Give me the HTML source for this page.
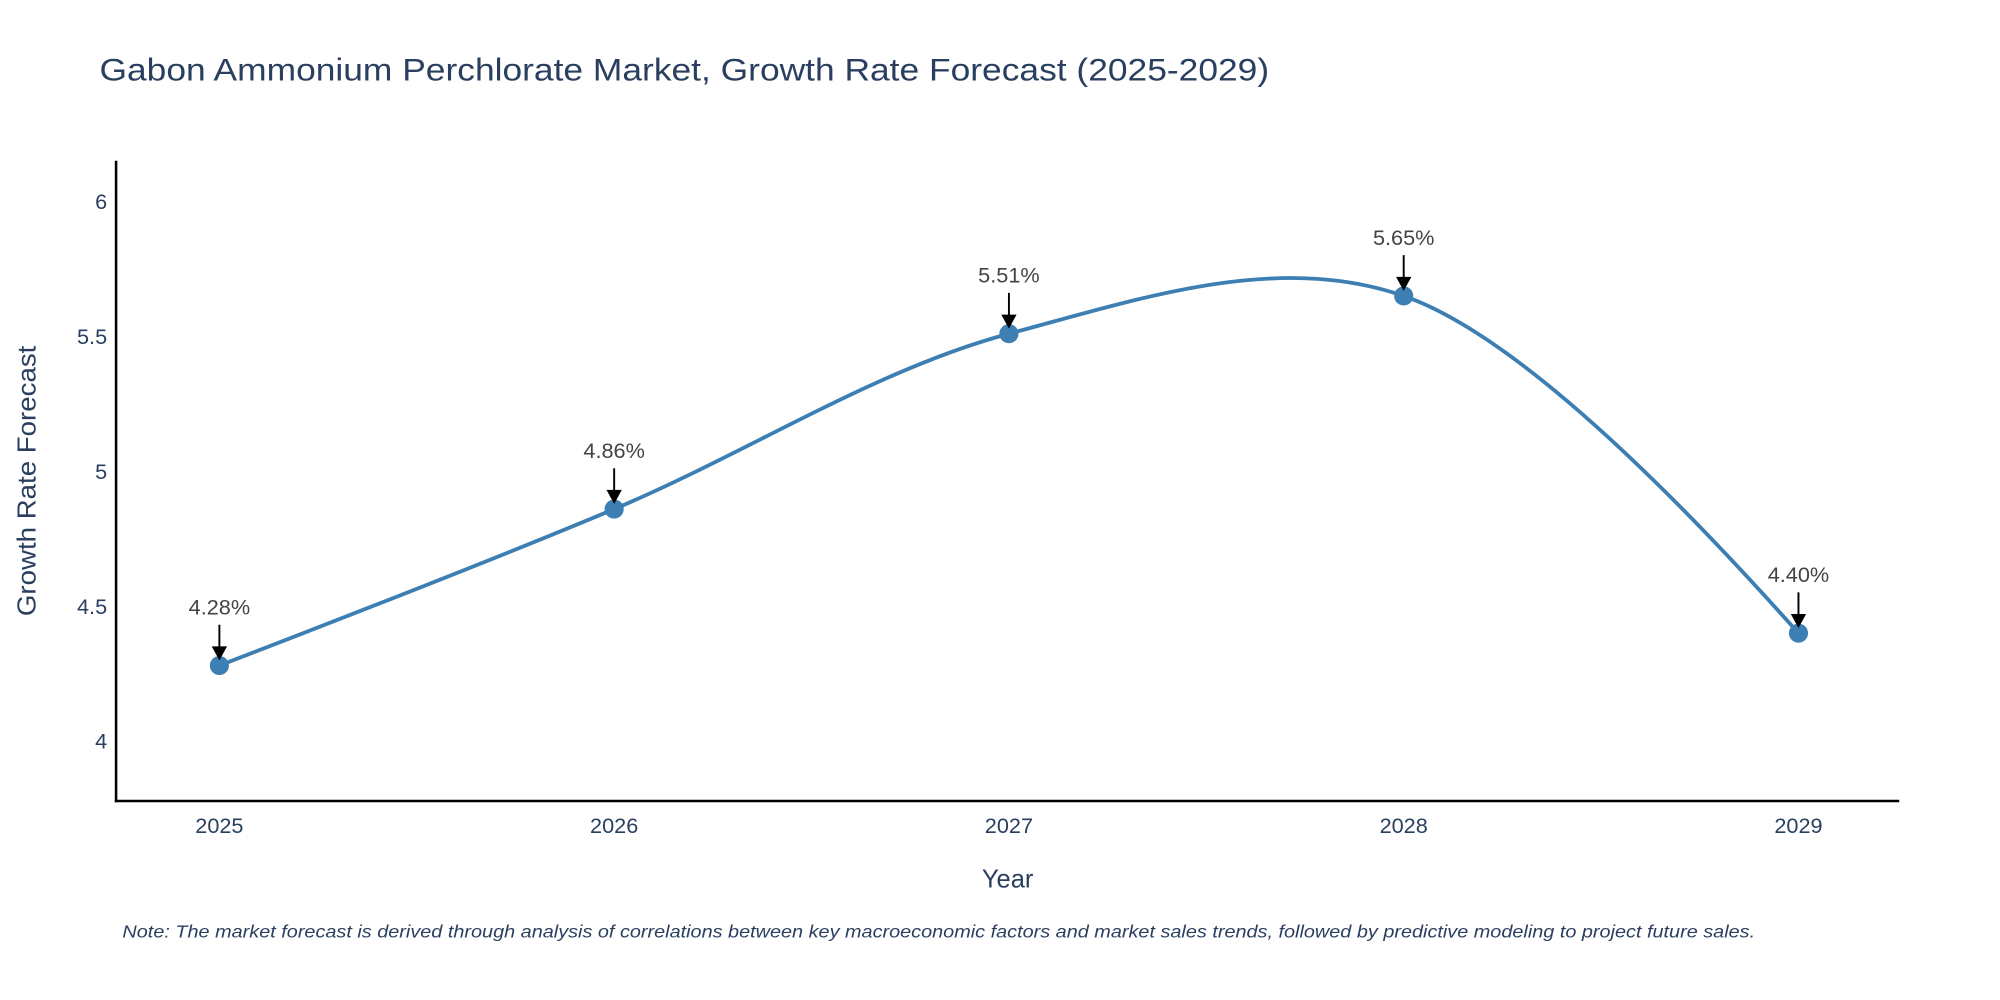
<!DOCTYPE html>
<html><head><meta charset="utf-8"><style>
html,body{margin:0;padding:0;background:#fff;width:2000px;height:1000px;overflow:hidden}
svg{display:block;font-family:"Liberation Sans",sans-serif}
</style></head><body>
<svg id="chart" width="2000" height="1000" viewBox="0 0 1568 784" xmlns="http://www.w3.org/2000/svg">
<text x="78" y="63" font-size="25" fill="#2a3f5f" textLength="917" lengthAdjust="spacingAndGlyphs">Gabon Ammonium Perchlorate Market, Growth Rate Forecast (2025-2029)</text>
<g id="yticks"></g><g id="xticks"></g>
<line x1="91" y1="126" x2="91" y2="629" stroke="#000" stroke-width="2"/>
<line x1="90" y1="628" x2="1489" y2="628" stroke="#000" stroke-width="2"/>
<text transform="translate(28,377) rotate(-90)" text-anchor="middle" font-size="20" fill="#2a3f5f" textLength="212" lengthAdjust="spacingAndGlyphs">Growth Rate Forecast</text>
<text x="790" y="696" text-anchor="middle" font-size="20" fill="#2a3f5f">Year</text>
<g id="series"></g><g id="annots"></g>
<text x="96" y="735" font-size="14" font-style="italic" fill="#2a3f5f" textLength="1280" lengthAdjust="spacingAndGlyphs">Note: The market forecast is derived through analysis of correlations between key macroeconomic factors and market sales trends, followed by predictive modeling to project future sales.</text>
</svg>
<script>
const categories = ['2025','2026','2027','2028','2029'];
const values = [4.28, 4.86, 5.51, 5.65, 4.40];
const labels = ['4.28%','4.86%','5.51%','5.65%','4.40%'];
const yTickValues = [4, 4.5, 5, 5.5, 6];
const yTickLabels = ['4','4.5','5','5.5','6'];

const NS='http://www.w3.org/2000/svg';
function xScale(i){return 172 + i*309.5;}
function yScale(v){return 581 - (v-4)*211.5;}
function mk(t,a,p){const e=document.createElementNS(NS,t);for(const k in a)e.setAttribute(k,a[k]);p.appendChild(e);return e;}

const yt=document.getElementById('yticks');
yTickValues.forEach((v,i)=>{
  const t=mk('text',{x:84,y:yScale(v)+6,'text-anchor':'end','font-size':17,fill:'#2a3f5f'},yt);
  t.textContent=yTickLabels[i];
  
  
});
const xt=document.getElementById('xticks');
categories.forEach((c,i)=>{
  const t=mk('text',{x:xScale(i),y:653,'text-anchor':'middle','font-size':17,fill:'#2a3f5f'},xt);
  t.textContent=c;
  
  
});

const pts=values.map((v,i)=>[xScale(i),yScale(v)]);
function tangent(p0,p1,p2){
  const d1x=p0[0]-p1[0],d1y=p0[1]-p1[1],d2x=p2[0]-p1[0],d2y=p2[1]-p1[1];
  const d1a=Math.pow(d1x*d1x+d1y*d1y,0.125),d2a=Math.pow(d2x*d2x+d2y*d2y,0.125);
  const nx=(d2a*d2a*d1x-d1a*d1a*d2x),ny=(d2a*d2a*d1y-d1a*d1a*d2y);
  const den1=3*d2a*(d1a+d2a),den2=3*d1a*(d1a+d2a);
  return [[p1[0]+nx/den1,p1[1]+ny/den1],[p1[0]-nx/den2,p1[1]-ny/den2]];
}
const tg=[];for(let i=1;i<pts.length-1;i++)tg.push(tangent(pts[i-1],pts[i],pts[i+1]));
const P=p=>p[0]+','+p[1];
let d='M'+P(pts[0])+'Q'+P(tg[0][0])+' '+P(pts[1]);
for(let i=2;i<pts.length-1;i++)d+='C'+P(tg[i-2][1])+' '+P(tg[i-1][0])+' '+P(pts[i]);
d+='Q'+P(tg[pts.length-3][1])+' '+P(pts[pts.length-1]);
const s=document.getElementById('series');
const line=mk('path',{d:d,fill:'none',stroke:'#3d7fb3','stroke-width':3},s);


pts.forEach((p,i)=>{
  const c=mk('circle',{cx:p[0],cy:p[1],r:7.5,fill:'#3d7fb3'},s);
  
  
});
const an=document.getElementById('annots');
pts.forEach((p,i)=>{
  const g=mk('g',{},an);
  
  
  mk('line',{x1:p[0],y1:p[1]-32,x2:p[0],y2:p[1]-12,stroke:'#000','stroke-width':1.5},g);
  mk('path',{d:`M${p[0]-6},${p[1]-15} L${p[0]+6},${p[1]-15} L${p[0]},${p[1]-4} Z`,fill:'#000'},g);
  const t=mk('text',{x:p[0],y:p[1]-40,'text-anchor':'middle','font-size':17,fill:'#444'},g);
  t.textContent=labels[i];
});
</script>
</body></html>
